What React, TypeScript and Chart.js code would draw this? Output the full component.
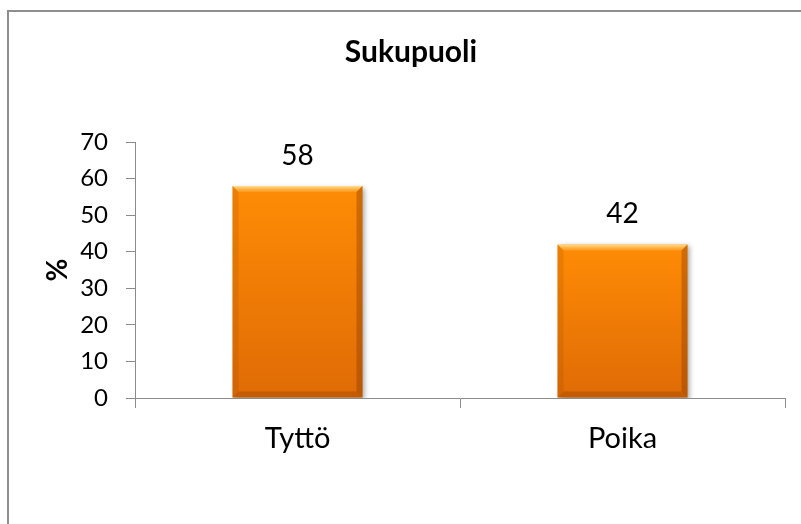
import { useEffect, useRef } from "react";
import { Chart, registerables } from "chart.js";

Chart.register(...registerables);

const chartTitle = "Sukupuoli";
const yAxisTitle = "%";
const categories = ["Tyttö", "Poika"];
const values = [58, 42];
const yMin = 0;
const yMax = 70;
const yStep = 10;

const FONT = "Lato, 'Open Sans', sans-serif";
const AXIS = "#8c8c8c";

const framePlugin = {
  id: "frame",
  beforeDraw(chart: any) {
    const ctx = chart.ctx;
    ctx.save();
    ctx.fillStyle = "#8e8e8e";
    ctx.fillRect(7, 10, chart.width - 7, 2);
    ctx.fillRect(7, 10, 2, chart.height - 10);
    ctx.restore();
  },
};

const barStylePlugin = {
  id: "barStyle",
  beforeDatasetsDraw(chart: any) {
    const ctx = chart.ctx;
    ctx.save();
    ctx.shadowColor = "rgba(0,0,0,0.35)";
    ctx.shadowBlur = 5;
    ctx.shadowOffsetX = 2;
    ctx.shadowOffsetY = 2;
  },
  afterDatasetsDraw(chart: any) {
    const ctx = chart.ctx;
    ctx.restore();
    const meta = chart.getDatasetMeta(0);
    meta.data.forEach((bar: any, i: number) => {
      const { x, y, base, width } = bar.getProps(["x", "y", "base", "width"], true);
      const l = x - width / 2;
      const r = x + width / 2;
      const t = y;
      const b = base;
      const bv = 6;
      ctx.save();
      let g = ctx.createLinearGradient(0, t, 0, t + bv);
      g.addColorStop(0, "rgba(255,235,170,0.9)");
      g.addColorStop(1, "rgba(255,190,90,0.3)");
      ctx.fillStyle = g;
      ctx.beginPath();
      ctx.moveTo(l, t);
      ctx.lineTo(r, t);
      ctx.lineTo(r - bv, t + bv);
      ctx.lineTo(l + bv, t + bv);
      ctx.closePath();
      ctx.fill();
      ctx.fillStyle = "rgba(150,70,0,0.18)";
      ctx.beginPath();
      ctx.moveTo(l, t);
      ctx.lineTo(l + bv, t + bv);
      ctx.lineTo(l + bv, b - bv);
      ctx.lineTo(l, b);
      ctx.closePath();
      ctx.fill();
      ctx.fillStyle = "rgba(120,50,0,0.35)";
      ctx.beginPath();
      ctx.moveTo(r, t);
      ctx.lineTo(r - bv, t + bv);
      ctx.lineTo(r - bv, b - bv);
      ctx.lineTo(r, b);
      ctx.closePath();
      ctx.fill();
      ctx.fillStyle = "rgba(130,55,0,0.3)";
      ctx.beginPath();
      ctx.moveTo(l, b);
      ctx.lineTo(l + bv, b - bv);
      ctx.lineTo(r - bv, b - bv);
      ctx.lineTo(r, b);
      ctx.closePath();
      ctx.fill();
      ctx.restore();

      ctx.save();
      ctx.font = `28px ${FONT}`;
      ctx.fillStyle = "#000";
      ctx.textAlign = "center";
      ctx.textBaseline = "alphabetic";
      ctx.fillText(String(values[i]), x, t - 21);
      ctx.restore();
    });
  },
};

export default function App() {
  const canvasRef = useRef<HTMLCanvasElement | null>(null);

  useEffect(() => {
    if (!canvasRef.current) return;
    const chart = new Chart(canvasRef.current, {
      type: "bar",
      data: {
        labels: categories,
        datasets: [
          {
            data: values,
            backgroundColor: (c: any) => {
              const ch = c.chart;
              const ys = ch.scales && ch.scales.y;
              if (!ys || c.dataIndex === undefined || !ch.chartArea) return "#f5820a";
              const top = ys.getPixelForValue(values[c.dataIndex]);
              const bottom = ys.getPixelForValue(0);
              if (!isFinite(top) || !isFinite(bottom)) return "#f5820a";
              const g = ch.ctx.createLinearGradient(0, top, 0, bottom);
              g.addColorStop(0, "#ff8c05");
              g.addColorStop(1, "#df6b06");
              return g;
            },
            borderWidth: 0,
            barPercentage: 0.4,
            categoryPercentage: 1,
          },
        ],
      },
      options: {
        animation: false,
        responsive: true,
        maintainAspectRatio: false,
        layout: { padding: { left: 37, right: 16, top: 0, bottom: 0 } },
        plugins: {
          legend: { display: false },
          tooltip: { enabled: false },
          title: {
            display: true,
            text: chartTitle,
            color: "#000",
            font: { family: FONT, size: 30, weight: "bold" },
            padding: { top: 34, bottom: 72 },
          },
        },
        scales: {
          x: {
            grid: {
              display: true,
              drawOnChartArea: false,
              drawTicks: true,
              tickLength: 10,
              color: AXIS,
              offset: true,
            },
            border: { display: true, color: AXIS, width: 1 },
            ticks: {
              color: "#000",
              font: { family: FONT, size: 29 },
              padding: 13,
            },
            afterFit: (s: any) => {
              s.height = 126;
            },
          },
          y: {
            min: yMin,
            max: yMax,
            grid: {
              display: true,
              drawOnChartArea: false,
              drawTicks: true,
              tickLength: 9,
              color: AXIS,
            },
            border: { display: true, color: AXIS, width: 1 },
            ticks: {
              stepSize: yStep,
              color: "#000",
              font: { family: FONT, size: 24 },
              padding: 18,
            },
            title: {
              display: true,
              text: yAxisTitle,
              color: "#000",
              font: { family: FONT, size: 28, weight: "bold" },
              padding: { top: 4, bottom: 0 },
            },
            afterFit: (s: any) => {
              s.width = 98;
            },
          },
        },
      },
      plugins: [framePlugin, barStylePlugin],
    });
    return () => chart.destroy();
  }, []);

  return (
    <div style={{ position: "absolute", left: 0, top: 0, width: 801, height: 524, background: "#fff" }}>
      <canvas ref={canvasRef} />
    </div>
  );
}
